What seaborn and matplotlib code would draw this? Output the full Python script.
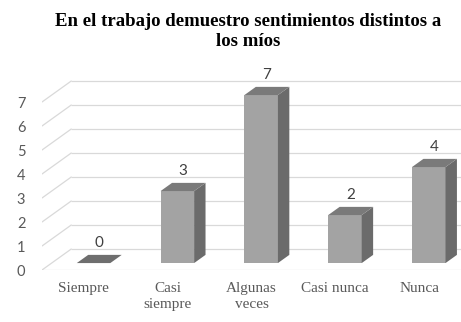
import matplotlib
matplotlib.use("Agg")
import matplotlib.pyplot as plt
import numpy as np
import pandas as pd
import seaborn as sns
from matplotlib.patches import Polygon

# Data
categorias = ["Siempre", "Casi\nsiempre", "Algunas\nveces", "Casi nunca", "Nunca"]
frecuencias = [0, 3, 7, 2, 4]
valores_eje = [0, 1, 2, 3, 4, 5, 6, 7]
titulo = "En el trabajo demuestro sentimientos distintos a\nlos míos"

sns.set_style("white")
plt.rcParams["font.family"] = ["Lato", "DejaVu Sans"]

W, H, DPI = 461, 322, 100
fig = plt.figure(figsize=(W / DPI, H / DPI), dpi=DPI)

# Axes placed in pixel terms: front floor edge from x=42 to 443, value 0 at y=270
PX_CAT = 80.2   # pixels per category
PX_VAL = 24.0   # pixels per unit
left_px, bottom_px, top_px = 42, H - 270, 60
ax = fig.add_axes([left_px / W, bottom_px / H, (W - left_px) / W, (270 - top_px) / H])
ax.set_xlim(-0.5, -0.5 + (W - left_px) / PX_CAT)
ax.set_ylim(0, (270 - top_px) / PX_VAL)

# Pseudo-3D depth of the floor (data units) and bar depth range
DX = 28 / PX_CAT
DY = 21 / PX_VAL
F0, F1 = 0.33, 0.72

grid_col = "#d9d9d9"
xmax = ax.get_xlim()[1]
for v in valores_eje:
    ax.plot([-0.5 + DX, xmax + 1], [v + DY, v + DY], color=grid_col, lw=0.9,
            zorder=0, solid_capstyle="butt")
    ax.plot([-0.5, -0.5 + DX], [v, v + DY], color=grid_col, lw=0.9, zorder=0)
ax.plot([-0.5, 4.5], [0, 0], color=grid_col, lw=0.9, zorder=0)

df = pd.DataFrame({"categoria": categorias, "frecuencia": frecuencias})
sns.barplot(data=df, x="categoria", y="frecuencia", width=0.4, color="#a3a3a3",
            saturation=1, ax=ax, zorder=3, linewidth=0)

ddx = (F1 - F0) * DX
ddy = (F1 - F0) * DY
for p, val in zip(ax.patches, frecuencias):
    x0 = p.get_x() + F0 * DX
    y0 = F0 * DY
    w = p.get_width()
    h = p.get_height()
    p.set_x(x0)
    p.set_y(y0)
    side = Polygon([(x0 + w, y0), (x0 + w + ddx, y0 + ddy),
                    (x0 + w + ddx, y0 + h + ddy), (x0 + w, y0 + h)],
                   closed=True, facecolor="#6b6b6b", edgecolor="none", zorder=3)
    top = Polygon([(x0, y0 + h), (x0 + w, y0 + h),
                   (x0 + w + ddx, y0 + h + ddy), (x0 + ddx, y0 + h + ddy)],
                  closed=True, facecolor="#7a7a7a" if h > 0 else "#6e6e6e",
                  edgecolor="none", zorder=4)
    ax.add_patch(side)
    ax.add_patch(top)
    ax.annotate(f"{val:g}", (x0 + w / 2 + ddx / 2, y0 + h + ddy),
                xytext=(0, 3.5), textcoords="offset points", ha="center",
                va="bottom", fontsize=11, color="#404040")

ax.set_xticks(range(len(categorias)))
ax.set_xticklabels(categorias, fontfamily="Liberation Serif", fontsize=11,
                   color="#595959", linespacing=1.35, ha="center",
                   multialignment="center")
ax.set_yticks(valores_eje)
ax.set_yticklabels([str(v) for v in valores_eje], fontsize=10.5, color="#595959")
ax.tick_params(axis="x", length=0, pad=8.5)
ax.tick_params(axis="y", length=0, pad=12)
ax.set_xlabel("")
ax.set_ylabel("")
ax.grid(False)
sns.despine(ax=ax, left=True, bottom=True)

fig.text(248 / W, 1 - 13 / H, titulo, ha="center", va="top",
         multialignment="center", fontfamily="Liberation Serif",
         fontweight="bold", fontsize=13.5, linespacing=1.2, color="black")

fig.savefig("out.png", dpi=DPI)
